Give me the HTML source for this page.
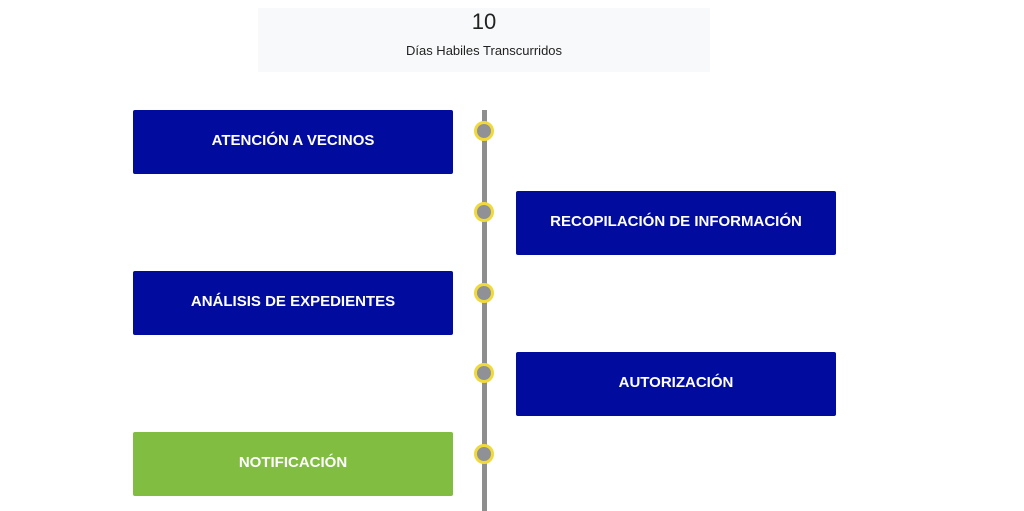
<!DOCTYPE html>
<html><head><style>
body{margin:0;width:1024px;height:511px;background:#fff;position:relative;overflow:hidden;font-family:"Liberation Sans",Arial,sans-serif}
.panel{position:absolute;left:258px;top:8px;width:452px;height:64px;background:#f8f9fa;text-align:center;color:#222}
.n{position:absolute;top:1px;left:0;right:0;font-size:22px}
.s{position:absolute;top:35px;left:0;right:0;font-size:13px}
.line{position:absolute;left:482px;top:110px;width:5px;height:401px;background:#8e8e8e}
.dot{position:absolute;left:474px;width:14px;height:14px;border-radius:50%;background:#8f9196;border:3px solid #f0d93a}
.b{position:absolute;width:320px;height:61px;padding-bottom:3px;background:#010c9f;color:#fff;font-weight:bold;font-size:15px;display:flex;align-items:center;justify-content:center;border-radius:2px}
.l{left:133px}.r{left:516px}
</style></head><body>
<div class="panel"><div class="n">10</div><div class="s">Días Habiles Transcurridos</div></div>
<div class="line"></div>
<div class="dot" style="top:121px"></div>
<div class="dot" style="top:202px"></div>
<div class="dot" style="top:283px"></div>
<div class="dot" style="top:363px"></div>
<div class="dot" style="top:444px"></div>
<div class="b l" style="top:110px">ATENCIÓN A VECINOS</div>
<div class="b r" style="top:191px">RECOPILACIÓN DE INFORMACIÓN</div>
<div class="b l" style="top:271px">ANÁLISIS DE EXPEDIENTES</div>
<div class="b r" style="top:352px">AUTORIZACIÓN</div>
<div class="b l" style="top:432px;background:#80bd40">NOTIFICACIÓN</div>
</body></html>
